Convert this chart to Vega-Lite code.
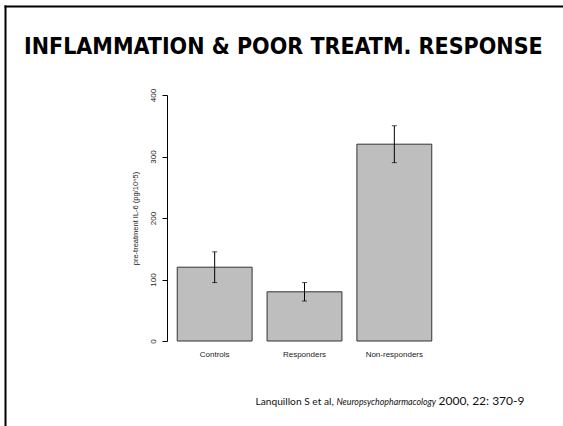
{
  "$schema": "https://vega.github.io/schema/vega-lite/v6.json",
  "width": 275,
  "height": 246,
  "autosize": {"type": "none"},
  "padding": {"left": 167, "top": 95, "right": 121, "bottom": 85},
  "background": "white",
  "config": {"view": {"stroke": null}},
  "title": {
    "text": "INFLAMMATION & POOR TREATM. RESPONSE",
    "font": "DejaVu Sans Condensed",
    "fontWeight": "bold",
    "fontSize": 23,
    "color": "black",
    "anchor": "start",
    "frame": "group",
    "baseline": "alphabetic",
    "offset": 0,
    "dx": -143,
    "dy": 71
  },
  "data": {
    "values": [
      {"group": "Controls", "value": 120, "lo": 95, "hi": 145},
      {"group": "Responders", "value": 80, "lo": 65, "hi": 95},
      {"group": "Non-responders", "value": 320, "lo": 290, "hi": 350}
    ]
  },
  "layer": [
    {
      "encoding": {
        "x": {
          "field": "group",
          "type": "nominal",
          "sort": null,
          "scale": {"paddingInner": 0.1667, "paddingOuter": 0.114},
          "axis": {
            "orient": "bottom",
            "domain": false,
            "ticks": false,
            "tickSize": 0,
            "labelAngle": 0,
            "labelFont": "Liberation Sans",
            "labelFontSize": 8,
            "labelColor": "#222",
            "labelPadding": 9,
            "title": "Lanquillon S et al,",
            "titleFont": "Lato",
            "titleFontSize": 10.2,
            "titleFontWeight": "normal",
            "titleColor": "#111",
            "titleAlign": "left",
            "titleAnchor": "start",
            "titleBaseline": "alphabetic",
            "titleX": 88,
            "titleY": 63
          }
        }
      },
      "layer": [
        {
          "mark": {"type": "bar", "fill": "#bebebe", "stroke": "#333", "strokeWidth": 1},
          "encoding": {
            "y": {
              "field": "value",
              "type": "quantitative",
              "scale": {"domain": [0, 400], "nice": false},
              "axis": {
                "orient": "left",
                "values": [0, 100, 200, 300, 400],
                "grid": false,
                "domainColor": "black",
                "tickColor": "black",
                "tickSize": 5,
                "labelAngle": -90,
                "labelAlign": "center",
                "labelBaseline": "bottom",
                "labelFont": "Liberation Sans",
                "labelFontSize": 8,
                "labelColor": "#222",
                "labelPadding": 5,
                "title": "pre-treatment IL-6 (pg/10^5)",
                "titleFont": "Liberation Sans",
                "titleFontSize": 7.5,
                "titleFontWeight": "normal",
                "titleColor": "#222",
                "titlePadding": 10
              }
            }
          }
        },
        {
          "mark": {"type": "rule", "color": "black", "strokeWidth": 1},
          "encoding": {
            "y": {"field": "lo", "type": "quantitative"},
            "y2": {"field": "hi"}
          }
        },
        {
          "mark": {"type": "tick", "color": "black", "size": 5, "thickness": 1},
          "encoding": {"y": {"field": "lo", "type": "quantitative"}}
        },
        {
          "mark": {"type": "tick", "color": "black", "size": 5, "thickness": 1},
          "encoding": {"y": {"field": "hi", "type": "quantitative"}}
        }
      ]
    },
    {
      "mark": {"type": "point", "opacity": 0},
      "encoding": {
        "x": {
          "field": "value",
          "type": "quantitative",
          "scale": {"range": [-163, 396]},
          "axis": {
            "orient": "top",
            "offset": 89,
            "domainColor": "black",
            "domainWidth": 2,
            "ticks": false,
            "labels": false,
            "grid": false,
            "title": "Neuropsychopharmacology",
            "titleFont": "Lato",
            "titleFontStyle": "italic",
            "titleFontSize": 8.8,
            "titleFontWeight": "normal",
            "titleColor": "#111",
            "titleAlign": "left",
            "titleAnchor": "start",
            "titleBaseline": "alphabetic",
            "titleX": 169,
            "titleY": 398
          }
        },
        "y": {
          "field": "value",
          "type": "quantitative",
          "scale": {"range": [331, -90]},
          "axis": {
            "orient": "left",
            "offset": 162,
            "domainColor": "black",
            "domainWidth": 2,
            "ticks": false,
            "labels": false,
            "grid": false,
            "title": "2000, 22: 370-9",
            "titleAngle": 0,
            "titleFont": "Lato",
            "titleFontSize": 12,
            "titleFontWeight": "normal",
            "titleColor": "#111",
            "titleAlign": "left",
            "titleAnchor": "start",
            "titleBaseline": "alphabetic",
            "titleX": 433,
            "titleY": 309
          }
        }
      }
    }
  ],
  "resolve": {
    "scale": {"x": "independent", "y": "independent"},
    "axis": {"x": "independent", "y": "independent"}
  }
}
